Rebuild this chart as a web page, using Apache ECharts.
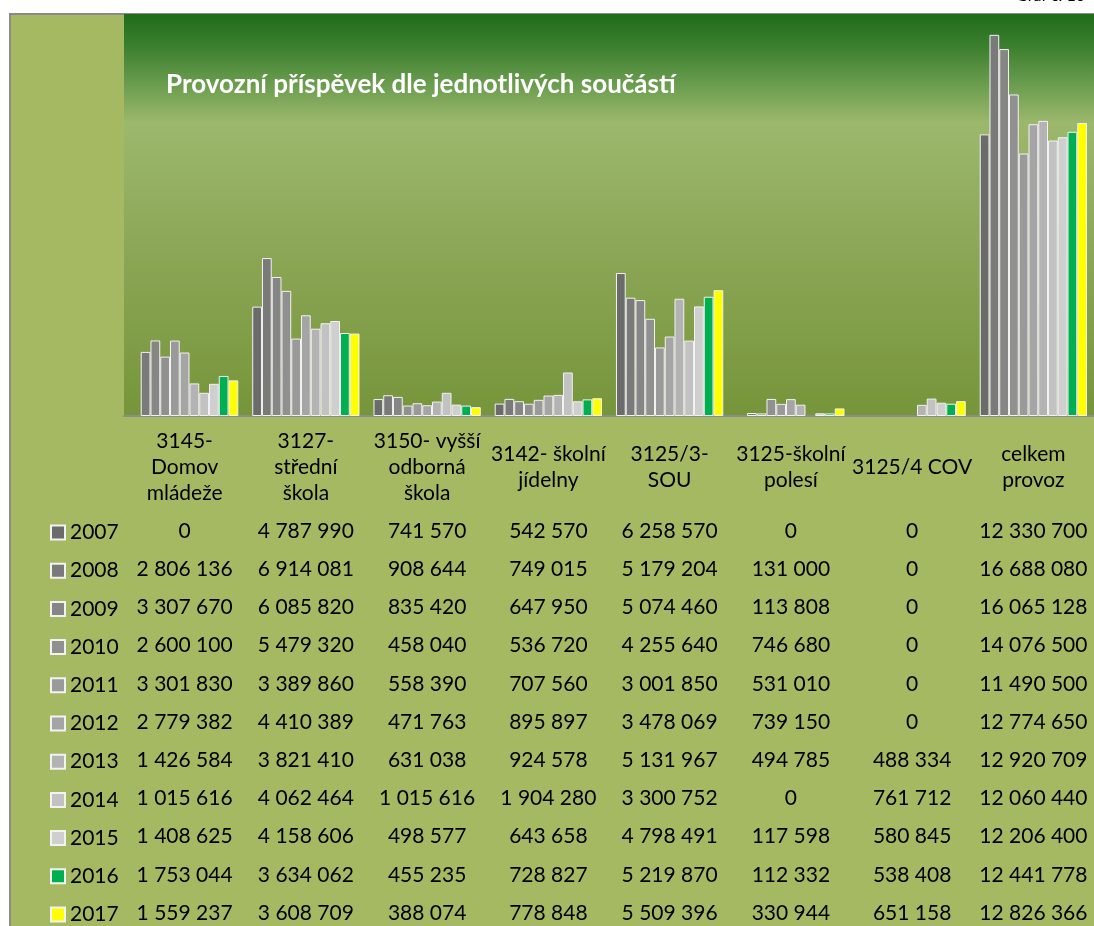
<!DOCTYPE html>
<html>
<head>
<meta charset="utf-8">
<title>Provozní příspěvek</title>
<script src="https://cdn.jsdelivr.net/npm/echarts@6/dist/echarts.min.js"></script>
<style>
  html, body { margin: 0; padding: 0; background: #fff; }
  #main { width: 1094px; height: 926px; }
</style>
</head>
<body>
<div id="main"></div>
<script>
// součásti (kategorie osy x)
var categories = ['3145-\nDomov\nmládeže', '3127-\nstřední\nškola', '3150- vyšší\nodborná\nškola',
  '3142- školní\njídelny', '3125/3-\nSOU', '3125-školní\npolesí', '3125/4 COV', 'celkem\nprovoz'];

var years = ['2007', '2008', '2009', '2010', '2011', '2012', '2013', '2014', '2015', '2016', '2017'];

// hodnoty po letech, pořadí dle categories
var v2007 = [0, 4787990, 741570, 542570, 6258570, 0, 0, 12330700];
var v2008 = [2806136, 6914081, 908644, 749015, 5179204, 131000, 0, 16688080];
var v2009 = [3307670, 6085820, 835420, 647950, 5074460, 113808, 0, 16065128];
var v2010 = [2600100, 5479320, 458040, 536720, 4255640, 746680, 0, 14076500];
var v2011 = [3301830, 3389860, 558390, 707560, 3001850, 531010, 0, 11490500];
var v2012 = [2779382, 4410389, 471763, 895897, 3478069, 739150, 0, 12774650];
var v2013 = [1426584, 3821410, 631038, 924578, 5131967, 494785, 488334, 12920709];
var v2014 = [1015616, 4062464, 1015616, 1904280, 3300752, 0, 761712, 12060440];
var v2015 = [1408625, 4158606, 498577, 643658, 4798491, 117598, 580845, 12206400];
var v2016 = [1753044, 3634062, 455235, 728827, 5219870, 112332, 538408, 12441778];
var v2017 = [1559237, 3608709, 388074, 778848, 5509396, 330944, 651158, 12826366];

var values = [v2007, v2008, v2009, v2010, v2011, v2012, v2013, v2014, v2015, v2016, v2017];

var colors = ['#6b6b6b', '#7a7a7a', '#868686', '#909090', '#9a9a9a', '#a5a5a5',
  '#b3b3b3', '#c2c2c2', '#cfcfcf', '#00b050', '#ffff00'];

var font = 'Lato, "Open Sans", sans-serif';

function fmt(n) {
  return String(n).replace(/\B(?=(\d{3})+(?!\d))/g, ' ');
}

var myChart = echarts.init(document.getElementById('main'));

// hlavní osa + jedna skrytá osa na každý řádek tabulky
var baseY = 416;
var rowTop = 531, rowStep = 38.2;
var xAxes = [{
  type: 'category',
  data: categories,
  gridIndex: 0,
  axisLine: { lineStyle: { color: '#8c8c8c', width: 2 } },
  axisTick: { show: false },
  axisLabel: {
    interval: 0, color: '#000', fontSize: 21, fontFamily: font,
    lineHeight: 26, verticalAlign: 'middle', margin: 51
  }
}];
years.forEach(function (y, i) {
  xAxes.push({
    type: 'category',
    data: categories,
    gridIndex: 0,
    position: 'bottom',
    offset: rowTop + i * rowStep - baseY,
    axisLine: { show: false },
    axisTick: { show: false },
    splitLine: { show: false },
    axisLabel: {
      interval: 0, color: '#000', fontSize: 21, fontFamily: font,
      verticalAlign: 'middle', margin: 0,
      formatter: function (val, idx) { return fmt(values[i][idx]); }
    }
  });
});

var series = years.map(function (y, i) {
  return {
    name: y,
    type: 'bar',
    xAxisIndex: 0,
    data: values[i].map(function (v) {
      return v === 0 ? { value: v, itemStyle: { borderWidth: 0 } } : v;
    }),
    barGap: '0%',
    barCategoryGap: '11.5%',
    itemStyle: { color: colors[i], borderColor: '#f2f2f2', borderWidth: 1 }
  };
});

var option = {
  backgroundColor: '#fff',
  animation: false,
  title: {
    text: 'Provozní příspěvek dle jednotlivých součástí',
    left: 161, top: 67,
    textStyle: { color: '#fff', fontSize: 26, fontWeight: 'bold', fontFamily: font }
  },
  legend: {
    data: years,
    orient: 'vertical',
    left: 45, top: 517, height: 480,
    itemWidth: 14, itemHeight: 14,
    itemGap: 17.2,
    icon: 'rect',
    textStyle: { color: '#000', fontSize: 21, lineHeight: 20, fontFamily: font }
  },
  grid: {
    left: 124, top: 14, right: -6, bottom: 926 - baseY,
    show: true, borderWidth: 0,
    backgroundColor: new echarts.graphic.LinearGradient(0, 0, 0, 1, [
      { offset: 0, color: '#1f6c1b' },
      { offset: 0.08, color: '#3b7f2e' },
      { offset: 0.18, color: '#6d9e50' },
      { offset: 0.27, color: '#9cb86c' },
      { offset: 0.6, color: '#8ba656' },
      { offset: 1, color: '#76953a' }
    ])
  },
  xAxis: xAxes,
  yAxis: { type: 'value', min: 0, max: 17600000, show: false, splitLine: { show: false } },
  graphic: [
    {
      type: 'rect', z: -10,
      shape: { x: 10, y: 14, width: 1100, height: 1000 },
      style: { fill: '#a4b962', stroke: '#8a8a8a', lineWidth: 2 }
    },
    {
      type: 'text', right: 9, top: -12,
      style: { text: 'Graf č. 10', fill: '#000', font: '16px ' + font }
    }
  ],
  series: series
};

myChart.setOption(option);
window.addEventListener('resize', function () {
  myChart.resize();
});
</script>
</body>
</html>
